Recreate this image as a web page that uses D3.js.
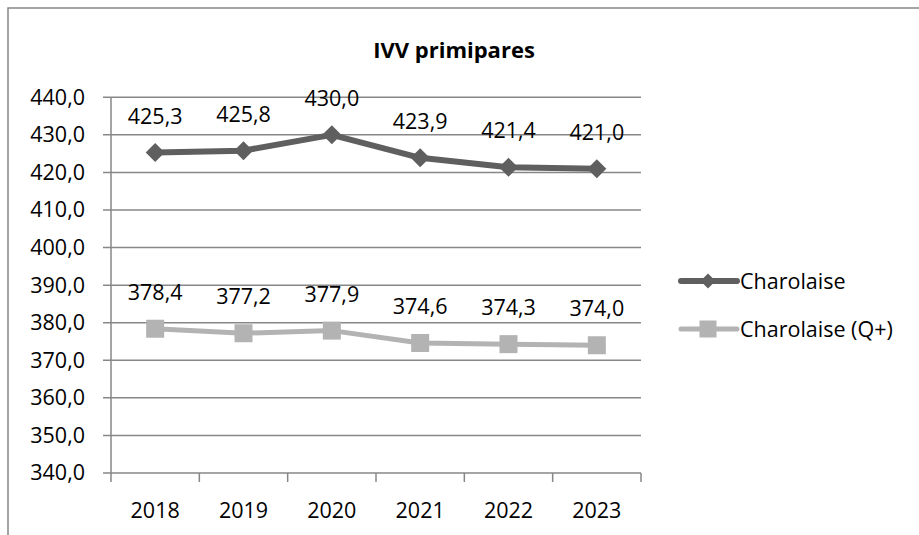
<!DOCTYPE html>
<html>
<head>
<meta charset="utf-8">
<script src="https://cdn.jsdelivr.net/npm/d3@7"></script>
<style>
  body { margin: 0; background: #fff; }
  svg { display: block; font-family: "Open Sans", sans-serif; }
</style>
</head>
<body>
<svg id="chart" width="919" height="535"></svg>
<script>
const years = ["2018", "2019", "2020", "2021", "2022", "2023"];
const charolaise = [425.3, 425.8, 430.0, 423.9, 421.4, 421.0];
const charolaiseQ = [378.4, 377.2, 377.9, 374.6, 374.3, 374.0];
const yTicks = [340, 350, 360, 370, 380, 390, 400, 410, 420, 430, 440];
const seriesNames = ["Charolaise", "Charolaise (Q+)"];

const svg = d3.select("#chart");

let margin = { top: 97.3, left: 111, right: 278, bottom: 62 };
let plotWidth = 919 - margin.left - margin.right;   // 530
let plotHeight = 535 - margin.top - margin.bottom;

const gridColor = "#878787";
const fontSize = 21.5;
const fr = d3.formatLocale({ decimal: ",", thousands: " ", grouping: [3], currency: ["", "€"] });
const fmt = fr.format(".1f");

// outer chart frame (cut off on right and bottom)
svg.append("rect")
    .attr("x", 8).attr("y", 8)
    .attr("width", 1000).attr("height", 1000)
    .attr("fill", "none")
    .attr("stroke", gridColor)
    .attr("stroke-width", 1.5);

svg.append("text")
    .attr("x", 454).attr("y", 58)
    .attr("text-anchor", "middle")
    .attr("font-size", 22)
    .attr("font-weight", "bold")
    .text("IVV primipares");

let x = d3.scaleBand().domain(years).range([0, plotWidth]).padding(0);
let y = d3.scaleLinear().domain([340, 440]).range([plotHeight, 0]);

let plot = svg.append("g")
    .attr("transform", "translate(" + margin.left + "," + margin.top + ")");

// gridlines + small ticks on the left
plot.append("g")
    .selectAll("line")
    .data(yTicks)
    .enter()
    .append("line")
    .attr("x1", -8).attr("x2", plotWidth)
    .attr("y1", d => y(d)).attr("y2", d => y(d))
    .attr("stroke", gridColor)
    .attr("stroke-width", 1.5);

let yAxis = plot.append("g")
    .call(d3.axisLeft(y).tickValues(yTicks).tickFormat(fmt).tickSize(8).tickPadding(18));
yAxis.select(".domain").remove();
yAxis.selectAll("line").remove();
yAxis.selectAll("text")
    .attr("font-size", fontSize)
    .attr("font-family", "Open Sans, sans-serif")
    .attr("fill", "#000");

// vertical axis line
plot.append("line")
    .attr("x1", 0).attr("x2", 0)
    .attr("y1", 0).attr("y2", plotHeight + 9)
    .attr("stroke", gridColor).attr("stroke-width", 1.5);

// x tick marks at band edges
let edges = years.map(d => x(d)).concat([plotWidth]);
plot.append("g")
    .selectAll("line")
    .data(edges.slice(1))
    .enter()
    .append("line")
    .attr("x1", d => d).attr("x2", d => d)
    .attr("y1", plotHeight).attr("y2", plotHeight + 9)
    .attr("stroke", gridColor).attr("stroke-width", 1.5);

plot.append("g")
    .selectAll("text")
    .data(years)
    .enter()
    .append("text")
    .attr("x", d => x(d) + x.bandwidth() / 2)
    .attr("y", plotHeight + 45)
    .attr("text-anchor", "middle")
    .attr("font-size", fontSize)
    .text(d => d);

const series = [
    { name: seriesNames[0], values: charolaise, color: "#5f5f5f", marker: "diamond", width: 6 },
    { name: seriesNames[1], values: charolaiseQ, color: "#b3b3b3", marker: "square", width: 5 }
];

let line = d3.line()
    .x((d, i) => x(years[i]) + x.bandwidth() / 2)
    .y(d => y(d));

function drawMarker(g, type, cx, cy, size, color) {
    if (type === "diamond") {
        let h = size / 2;
        g.append("path")
            .attr("d", "M" + cx + "," + (cy - h) + "L" + (cx + h) + "," + cy +
                "L" + cx + "," + (cy + h) + "L" + (cx - h) + "," + cy + "Z")
            .attr("fill", color);
    } else {
        g.append("rect")
            .attr("x", cx - size / 2).attr("y", cy - size / 2)
            .attr("width", size).attr("height", size)
            .attr("fill", color);
    }
}

series.forEach(s => {
    plot.append("path")
        .attr("d", line(s.values))
        .attr("fill", "none")
        .attr("stroke", s.color)
        .attr("stroke-width", s.width)
        .attr("stroke-linejoin", "round");

    let mg = plot.append("g");
    s.values.forEach((v, i) => {
        drawMarker(mg, s.marker, x(years[i]) + x.bandwidth() / 2, y(v),
            s.marker === "diamond" ? 19 : 18, s.color);
    });

    plot.append("g")
        .selectAll("text")
        .data(s.values)
        .enter()
        .append("text")
        .attr("x", (d, i) => x(years[i]) + x.bandwidth() / 2)
        .attr("y", d => y(d) - 29)
        .attr("text-anchor", "middle")
        .attr("font-size", fontSize)
        .text(d => fmt(d));
});

// legend
let legendY = [281, 329];
series.forEach((s, i) => {
    let lg = svg.append("g");
    lg.append("line")
        .attr("x1", 681).attr("x2", 737)
        .attr("y1", legendY[i]).attr("y2", legendY[i])
        .attr("stroke", s.color)
        .attr("stroke-width", s.width)
        .attr("stroke-linecap", "round");
    drawMarker(lg, s.marker, 708, legendY[i], s.marker === "diamond" ? 15 : 17, s.color);
    lg.append("text")
        .attr("x", 740)
        .attr("y", legendY[i])
        .attr("dy", "0.36em")
        .attr("font-size", fontSize)
        .text(s.name);
});
</script>
</body>
</html>
